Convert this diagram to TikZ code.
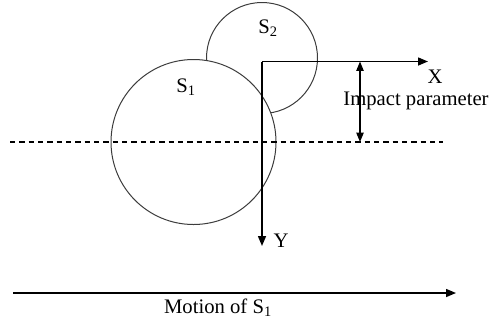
\documentclass[tikz,border=0pt]{standalone}
\usepackage{fontspec}
\setmainfont{Liberation Serif}
\usetikzlibrary{arrows.meta}

\tikzset{every picture/.style={line width=0.75pt}}
\tikzset{
  axisline/.style={line width=1.1pt, -{Triangle[length=7.5pt,width=6pt]}},
  dimline/.style={line width=0.9pt, {Triangle[length=7pt,width=5.5pt]}-{Triangle[length=7pt,width=5.5pt]}},
  txt/.style={inner sep=0.75pt, font=\fontsize{15.5}{18}\selectfont}
}

\begin{document}
\begin{tikzpicture}[x=0.75pt,y=0.75pt,yscale=-1,xscale=1]
\path (0,0) rectangle (498,322); %set diagram size

%Shape: Circle S2 (behind S1)
\draw [color={rgb, 255:red, 60; green, 60; blue, 60 }] (262,58) circle [radius=55.5];
%Shape: Circle S1
\draw [color={rgb, 255:red, 60; green, 60; blue, 60 }, fill=white] (193.5,142) circle [radius=82.5];

%Straight Lines: centre line
\coordinate (dashL) at (10,142);
\coordinate (dashR) at (443,142);
\draw [dash pattern={on 4pt off 3pt}, line width=0.8pt] (dashL) -- (dashR);

%Axes
\coordinate (origin) at (262,61.5);
\coordinate (xend) at (428,61.5);
\coordinate (yend) at (262,246);
\draw [axisline] (origin) -- (xend);
\draw [axisline] (origin) -- (yend);

%Impact parameter
\coordinate (ipTop) at (360,61.5);
\coordinate (ipBot) at (360,142);
\draw [dimline] (ipTop) -- (ipBot);

%Motion arrow
\coordinate (motL) at (13,293);
\coordinate (motR) at (456,293);
\draw [axisline] (motL) -- (motR);

% Text Node
\node (s1lbl) [txt] at (186,87) {S\textsubscript{1}};
% Text Node
\node (s2lbl) [txt] at (268,28) {S\textsubscript{2}};
% Text Node
\node (xlbl) [txt] at (435,77) {X};
% Text Node
\node (ylbl) [txt] at (281,241) {Y};
% Text Node
\node (iplbl) [txt] at (416,101) {Impact parameter};
% Text Node
\node (motlbl) [txt] at (218,308) {Motion of S\textsubscript{1}};

\end{tikzpicture}
\end{document}
